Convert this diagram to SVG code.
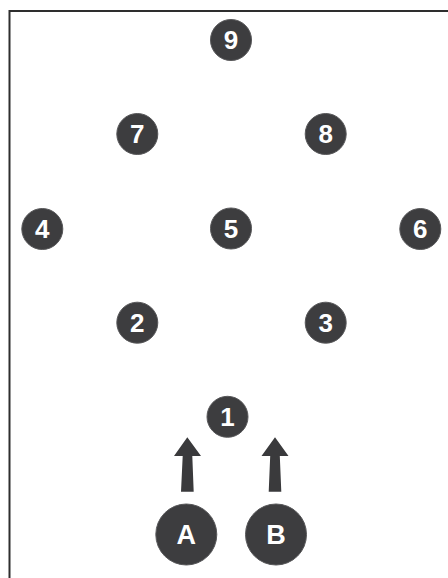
<svg xmlns="http://www.w3.org/2000/svg" width="448" height="578" viewBox="0 0 448 578">
  <style>
    .n circle { fill: #3d3d3f; stroke: #58585a; stroke-width: 1; }
    .n text { fill: #ffffff; font-family: "Liberation Sans", Arial, sans-serif; font-weight: bold; font-size: 26px; text-anchor: middle; }
    .big text { font-size: 27px; }
    .arrow { fill: #3a3a3c; }
    .frame { fill: none; stroke: #2e2e2e; stroke-width: 2; }
  </style>
  <rect x="0" y="0" width="448" height="578" fill="#ffffff"/>
  <path class="frame" d="M9.5,578 V11 H448"/>

  <g id="connectors">
    <polygon class="arrow" points="187.3,437.3 201,456 192.3,456 193.7,491.7 181,491.7 182.7,456 174,456"/>
    <polygon class="arrow" points="275,437.3 288.5,456 279.8,456 281.3,491.7 268.7,491.7 270.2,456 261.5,456"/>
  </g>

  <g id="node-9" class="n"><circle cx="231" cy="40" r="20.5"/><text x="231" y="49.3">9</text></g>
  <g id="node-7" class="n"><circle cx="137.3" cy="134" r="20.5"/><text x="137.3" y="143.3">7</text></g>
  <g id="node-8" class="n"><circle cx="325.7" cy="134" r="20.5"/><text x="325.7" y="143.3">8</text></g>
  <g id="node-4" class="n"><circle cx="42.3" cy="229" r="20.5"/><text x="42.3" y="238.3">4</text></g>
  <g id="node-5" class="n"><circle cx="231" cy="228.5" r="20.5"/><text x="231" y="237.8">5</text></g>
  <g id="node-6" class="n"><circle cx="420.3" cy="229" r="20.5"/><text x="420.3" y="238.3">6</text></g>
  <g id="node-2" class="n"><circle cx="137.3" cy="322.7" r="20.5"/><text x="137.3" y="332">2</text></g>
  <g id="node-3" class="n"><circle cx="325.7" cy="322.7" r="20.5"/><text x="325.7" y="332">3</text></g>
  <g id="node-1" class="n"><circle cx="227.5" cy="416.8" r="20.5"/><text x="227.5" y="426.1">1</text></g>
  <g id="node-A" class="n big"><circle cx="186.3" cy="534.5" r="30.5"/><text x="186.3" y="544.2">A</text></g>
  <g id="node-B" class="n big"><circle cx="276" cy="534.5" r="30.5"/><text x="276" y="544.2">B</text></g>
</svg>
